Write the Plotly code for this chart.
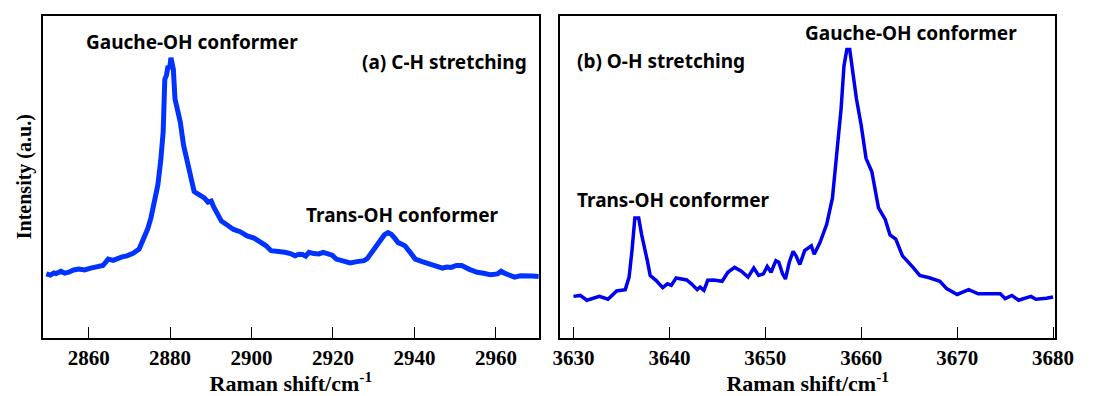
import plotly.graph_objects as go

# (a) C-H stretching
ch_shift = [2849.6, 2850.6, 2851.5, 2852.0, 2853.2, 2854.1, 2855.1, 2856.3, 2857.6, 2859.0,
            2860.5, 2861.8, 2863.5, 2864.3, 2864.8, 2866.0, 2867.0, 2868.2, 2869.4, 2870.9,
            2872.4, 2873.6, 2874.5, 2875.3, 2876.2, 2877.0, 2877.7, 2878.3, 2878.7, 2879.1,
            2879.5, 2879.9, 2880.2, 2880.5, 2880.8, 2881.2, 2881.8, 2882.5, 2883.3, 2884.0,
            2884.6, 2885.3, 2885.9, 2886.5, 2887.1, 2887.8, 2888.4, 2889.3, 2890.1, 2890.7,
            2891.3, 2892.0, 2892.6, 2894.0, 2895.6, 2897.2, 2898.9, 2900.6, 2902.3, 2903.5,
            2904.8, 2906.5, 2908.2, 2909.5, 2910.7, 2911.6, 2912.5, 2913.3, 2914.1, 2915.3,
            2916.5, 2917.6, 2918.7, 2919.8, 2920.8, 2922.5, 2924.2, 2925.9, 2927.6, 2928.4,
            2929.2, 2930.0, 2930.9, 2931.8, 2932.6, 2933.5, 2934.3, 2935.2, 2936.0, 2936.9,
            2937.7, 2939.0, 2940.2, 2941.9, 2943.6, 2945.3, 2946.9, 2948.0, 2949.0, 2950.3,
            2951.6, 2953.5, 2955.4, 2957.0, 2958.7, 2960.4, 2961.3, 2962.1, 2963.4, 2964.6,
            2966.0, 2967.5, 2969.0, 2970.5]
ch_int = [19.8, 19.4, 20.1, 19.9, 20.6, 20.0, 20.3, 21.0, 21.3, 21.0,
          21.6, 22.0, 22.4, 23.6, 24.4, 24.0, 24.6, 25.1, 25.4, 26.2,
          27.5, 31.1, 33.8, 37.2, 42.0, 47.5, 55.0, 63.9, 80.3, 81.5,
          84.4, 83.6, 87.0, 85.2, 83.4, 74.2, 71.0, 67.0, 59.8, 56.0,
          51.6, 47.8, 45.4, 44.9, 44.4, 43.9, 43.4, 42.1, 42.4, 40.6,
          39.3, 37.9, 36.2, 35.0, 33.6, 32.9, 31.6, 30.9, 29.5, 28.6,
          27.0, 26.9, 26.5, 26.1, 25.4, 25.9, 25.8, 25.3, 26.5, 26.1,
          26.0, 26.5, 26.2, 25.6, 24.4, 23.9, 23.2, 23.6, 23.9, 24.5,
          25.9, 27.6, 29.5, 31.0, 31.9, 32.6, 32.1, 30.8, 29.5, 29.0,
          28.5, 26.4, 24.4, 23.6, 22.9, 22.3, 21.6, 21.9, 21.8, 22.4,
          22.4, 21.2, 20.3, 20.0, 19.5, 19.8, 20.6, 20.0, 19.3, 18.8,
          19.2, 19.0, 19.1, 19.0]

# (b) O-H stretching
oh_shift = [3630.0, 3630.7, 3631.4, 3632.7, 3633.6, 3634.5, 3635.4, 3635.8, 3636.1, 3636.4,
            3636.8, 3637.1, 3637.7, 3638.0, 3638.6, 3639.3, 3639.8, 3640.2, 3640.7, 3641.8,
            3642.3, 3642.9, 3643.2, 3643.6, 3644.0, 3644.6, 3645.5, 3646.1, 3646.8, 3647.5,
            3648.2, 3648.8, 3649.3, 3649.8, 3650.2, 3650.6, 3651.1, 3651.4, 3651.8, 3652.1,
            3652.5, 3652.9, 3653.2, 3653.6, 3654.1, 3654.8, 3655.1, 3655.7, 3656.4, 3657.0,
            3657.5, 3657.9, 3658.2, 3658.5, 3658.8, 3659.1, 3659.5, 3660.0, 3660.5, 3661.1,
            3661.8, 3662.5, 3663.0, 3663.6, 3664.3, 3665.4, 3666.1, 3667.1, 3668.2, 3668.9,
            3670.0, 3671.2, 3672.2, 3674.5, 3675.0, 3675.7, 3676.4, 3677.7, 3678.2, 3679.3,
            3680.0]
oh_int = [12.8, 13.1, 11.6, 12.8, 11.9, 14.5, 14.9, 18.8, 27.0, 37.2,
          37.2, 32.1, 23.9, 19.3, 17.8, 15.5, 16.7, 16.2, 18.5, 17.9,
          16.7, 14.9, 15.7, 14.7, 17.8, 17.9, 17.5, 20.3, 21.8, 20.6,
          18.8, 21.6, 19.3, 19.8, 22.1, 20.3, 23.9, 23.4, 19.8, 18.2,
          23.4, 26.8, 25.4, 22.7, 27.0, 28.5, 25.9, 29.5, 35.2, 43.4,
          58.8, 71.1, 84.4, 89.5, 89.5, 82.4, 74.2, 65.9, 55.7, 51.6,
          40.3, 36.7, 31.9, 30.6, 25.4, 21.8, 19.3, 18.6, 17.5, 15.2,
          13.4, 14.9, 13.6, 13.6, 12.1, 13.1, 11.6, 12.8, 11.9, 12.2,
          12.6]

ch_ticks = [2860, 2880, 2900, 2920, 2940, 2960]
oh_ticks = [3630, 3640, 3650, 3660, 3670, 3680]
ch_ticklabels = ["2860", "2880", "2900", "2920", "2940", "2960"]
oh_ticklabels = ["3630", "3640", "3650", "3660", "3670", "3680"]

fig = go.Figure()
fig.add_trace(go.Scatter(x=ch_shift, y=ch_int, mode="lines",
                         line=dict(color="#0033ff", width=5), xaxis="x", yaxis="y"))
fig.add_trace(go.Scatter(x=oh_shift, y=oh_int, mode="lines",
                         line=dict(color="#0000ee", width=3.5), xaxis="x2", yaxis="y2"))

serif = "Liberation Serif"
sans = "Noto Sans"
W, H = 1094, 396
ydom = [1 - 341 / H, 1 - 16 / H]

xcommon = dict(showline=True, linecolor="black", linewidth=1.5, mirror=True,
               ticks="inside", ticklen=11, tickwidth=1, tickcolor="black",
               showgrid=False, zeroline=False, tickmode="array",
               tickfont=dict(family=serif, size=21, color="black"),
               title=dict(text="<b>Raman shift/cm<sup>-1</sup></b>",
                          font=dict(family=serif, size=22, color="black"), standoff=11))
ycommon = dict(showline=True, linecolor="black", linewidth=1.5, mirror=True,
               showticklabels=False, ticks="", showgrid=False, zeroline=False,
               range=[0, 100], domain=ydom)

fig.update_layout(
    width=W, height=H, margin=dict(l=0, r=0, t=0, b=0),
    paper_bgcolor="white", plot_bgcolor="white", showlegend=False,
    xaxis=dict(xcommon, domain=[36.5 / W, 545 / W], range=[2848.7, 2970.6],
               tickvals=ch_ticks, ticktext=["<b>" + t + "</b>" for t in ch_ticklabels],
               anchor="y"),
    yaxis=dict(ycommon, anchor="x",
               title=dict(text="<b>Intensity (a.u.)</b>",
                          font=dict(family=serif, size=20, color="black"), standoff=4)),
    xaxis2=dict(xcommon, domain=[566.5 / W, 1074 / W], range=[3628.6, 3680.25],
                tickvals=oh_ticks, ticktext=["<b>" + t + "</b>" for t in oh_ticklabels],
                anchor="y2"),
    yaxis2=dict(ycommon, anchor="x2"),
)

def label(text, xc, yc):
    fig.add_annotation(text="<b>" + text + "</b>", x=xc / W, y=1 - yc / H,
                       xref="paper", yref="paper", showarrow=False,
                       xanchor="center", yanchor="middle",
                       font=dict(family=sans, size=19, color="black"))

label("Gauche-OH conformer", 189, 42)
label("(a) C-H stretching", 448, 63)
label("Trans-OH conformer", 405, 217)
label("Gauche-OH conformer", 926, 33)
label("(b) O-H stretching", 670, 62)
label("Trans-OH conformer", 683, 202)

fig.write_html("out.html")
